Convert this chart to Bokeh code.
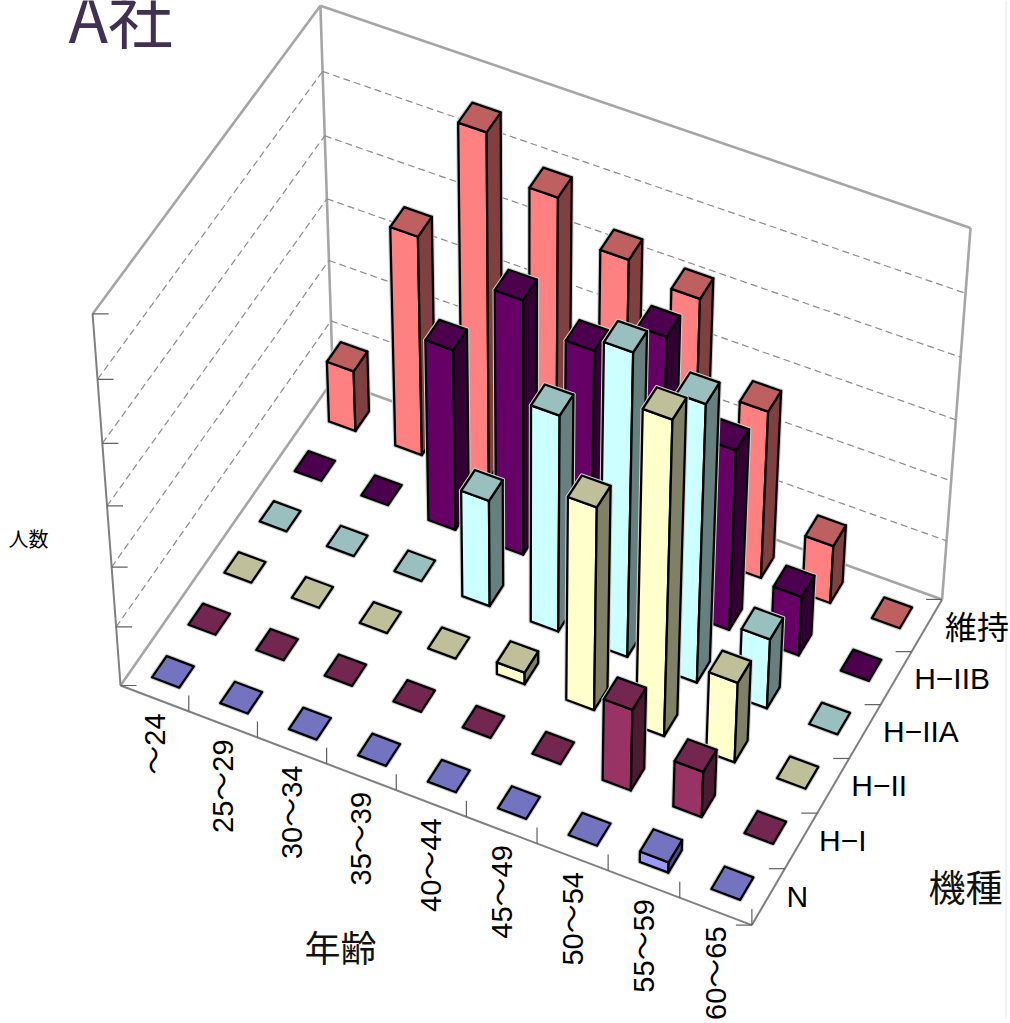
import numpy as np
from bokeh.plotting import figure
from bokeh.models import Range1d, ColumnDataSource
from bokeh.core.properties import value
from bokeh.embed import file_html
from bokeh.resources import INLINE

ages = ["～24", "25～29", "30～34", "35～39", "40～44", "45～49", "50～54", "55～59", "60～65"]
models = ["N", "H−I", "H−II", "H−IIA", "H−IIB", "維持"]

# bar heights in gridline units, one list per model, one value per age class
n_vals     = [0, 0, 0, 0, 0, 0, 0, 0.18, 0]
h1_vals    = [0, 0, 0, 0, 0, 0, 1.38, 0.78, 0]
h2_vals    = [0, 0, 0, 0, 0.2, 3.38, 5.18, 1.36, 0]
h2a_vals   = [0, 0, 0, 1.78, 3.58, 4.98, 4.58, 1.18, 0]
h2b_vals   = [0, 0, 2.99, 4.18, 3.78, 4.4, 3.0, 1.0, 0]
maint_vals = [1.01, 3.6, 5.6, 4.98, 4.4, 4.18, 2.78, 0.97, 0]
series = [n_vals, h1_vals, h2_vals, h2a_vals, h2b_vals, maint_vals]

front_cols = ["#9999FF", "#993366", "#FFFFCC", "#CCFFFF", "#660066", "#FF8080"]
top_cols   = ["#7373BF", "#732650", "#BFBF99", "#99BFBF", "#4D004D", "#BF6060"]
side_cols  = ["#4D4D80", "#4D1A33", "#808066", "#668080", "#330033", "#804040"]

W, H = 1010, 1023
n_i, n_j, n_h = len(ages), len(models), 6
bar_w = 0.40

# view calibration: (age index, model index, height) -> page pixel of the box corners
calib_3d = [(0, 0, 0), (n_i, 0, 0), (n_i, n_j, 0), (0, n_j, 0), (0, 0, n_h), (0, n_j, n_h), (n_i, n_j, n_h)]
calib_px = [(120.5, 685), (751, 925), (942, 598), (332, 380), (92, 313), (320, 5), (970, 228)]


def fit_camera(pts3, pts2):
    rows = []
    for (a, b, c), (u, v) in zip(pts3, pts2):
        rows.append([a, b, c, 1, 0, 0, 0, 0, -u * a, -u * b, -u * c, -u])
        rows.append([0, 0, 0, 0, a, b, c, 1, -v * a, -v * b, -v * c, -v])
    return np.linalg.svd(np.array(rows, float))[2][-1].reshape(3, 4)


CAM = fit_camera(calib_3d, calib_px)


def pr(a, b, c=0.0):
    q = CAM @ np.array([a, b, c, 1.0])
    return q[0] / q[2], q[1] / q[2]


p = figure(width=W, height=H, output_backend="svg", toolbar_location=None,
           x_range=Range1d(0, W), y_range=Range1d(H, 0), min_border=0)
p.styles = {"position": "absolute", "left": "0px", "top": "0px"}
p.axis.visible = False
p.grid.visible = False
p.outline_line_color = None


def seg(a, b, **kw):
    p.line([a[0], b[0]], [a[1], b[1]], **kw)


# page edge line of the reference
seg((1005.5, 0), (1005.5, 1017), line_color="#E4E4E4", line_width=1)

# walls: outer frame
wall = dict(line_color="#A6A6A6", line_width=2.6)
seg(pr(0, 0, n_h), pr(0, n_j, n_h), **wall)
seg(pr(0, n_j, n_h), pr(n_i, n_j, n_h), **wall)
seg(pr(n_i, n_j, n_h), pr(n_i, n_j, 0), **wall)
seg(pr(0, n_j, n_h), pr(0, n_j, 0), **wall)
seg(pr(0, n_j, 0), pr(n_i, n_j, 0), **wall)
seg(pr(0, n_j, 0), pr(0, 0, 0), **wall)

# gridlines
grid = dict(line_color="#8C8C8C", line_width=1.2, line_dash="7 4")
for k in range(1, n_h):
    seg(pr(0, 0, k), pr(0, n_j, k), **grid)
    seg(pr(0, n_j, k), pr(n_i, n_j, k), **grid)

# axes and ticks
axis = dict(line_color="#808080", line_width=2)
tick = dict(line_color="#606060", line_width=1.2)
seg(pr(0, 0, 0), pr(0, 0, n_h), **axis)
seg(pr(0, 0, 0), pr(n_i, 0, 0), **axis)
seg(pr(n_i, 0, 0), pr(n_i, n_j, 0), **axis)
for k in range(n_h + 1):
    x, y = pr(0, 0, k)
    seg((x, y), (x + 16, y), **tick)
for i in range(1, n_i + 1):
    x, y = pr(i, 0, 0)
    seg((x, y), (x, y - 16), **tick)
for j in range(n_j + 1):
    x, y = pr(n_i, j, 0)
    seg((x, y), (x - 16, y), **tick)

# bars, painted back to front
xs, ys, fills, lines, widths = [], [], [], [], []


def add(poly, fill, line, width):
    xs.append([q[0] for q in poly])
    ys.append([q[1] for q in poly])
    fills.append(fill)
    lines.append(line)
    widths.append(width)


pad = (1 - bar_w) / 2
for j in range(n_j - 1, -1, -1):
    for i in range(n_i):
        h = series[j][i]
        i0, i1, j0, j1 = i + pad, i + 1 - pad, j + pad, j + 1 - pad
        top = [pr(i0, j0, h), pr(i1, j0, h), pr(i1, j1, h), pr(i0, j1, h)]
        faces = [(top, top_cols[j])]
        if h > 0:
            front = [pr(i0, j0, 0), pr(i1, j0, 0), pr(i1, j0, h), pr(i0, j0, h)]
            side = [pr(i1, j0, 0), pr(i1, j1, 0), pr(i1, j1, h), pr(i1, j0, h)]
            faces = [(front, front_cols[j]), (side, side_cols[j]), (top, top_cols[j])]
        for poly, col in faces:
            add(poly, col, "#CFCFCF", 4.4)
        for poly, col in faces:
            add(poly, col, "#000000", 2.3)

src = ColumnDataSource(dict(xs=xs, ys=ys, fill=fills, line=lines, lw=widths))
p.patches("xs", "ys", source=src, fill_color="fill", line_color="line", line_width="lw", line_join="round")

# texts
LATIN = value("Liberation Sans, Noto Sans CJK JP")
CJK = value("Noto Sans CJK JP")
age_pos = [pr(i + 0.5, 0, 0) for i in range(n_i)]
p.text([q[0] for q in age_pos], [q[1] + 15 for q in age_pos], text=ages, angle=np.pi / 2,
       text_align="right", text_baseline="middle", text_font=LATIN, text_font_size="29px",
       text_color="#000000")
mod_pos = [pr(n_i, j + 0.5, 0) for j in range(n_j)]
p.text([q[0] + 18 for q in mod_pos[:-1]], [q[1] for q in mod_pos[:-1]], text=models[:-1],
       text_align="left", text_baseline="middle", text_font=LATIN, text_font_size="30px",
       text_color="#000000")
p.text([mod_pos[-1][0] + 18], [mod_pos[-1][1]], text=models[-1:],
       text_align="left", text_baseline="middle", text_font=CJK, text_font_size="32px",
       text_color="#000000")

p.text([68], [14], text=["A社"], text_font=CJK, text_font_size="65px", text_color="#403152",
       text_baseline="middle")
p.text([8], [538], text=["人数"], text_font=CJK, text_font_size="20px", text_color="#000000",
       text_baseline="middle")
p.text([340], [945], text=["年齢"], text_font=CJK, text_font_size="36px", text_color="#111111",
       text_align="center", text_baseline="middle")
p.text([965], [885], text=["機種"], text_font=CJK, text_font_size="37px", text_color="#111111",
       text_align="center", text_baseline="middle")

open("out.html", "w").write(file_html(p, INLINE))
